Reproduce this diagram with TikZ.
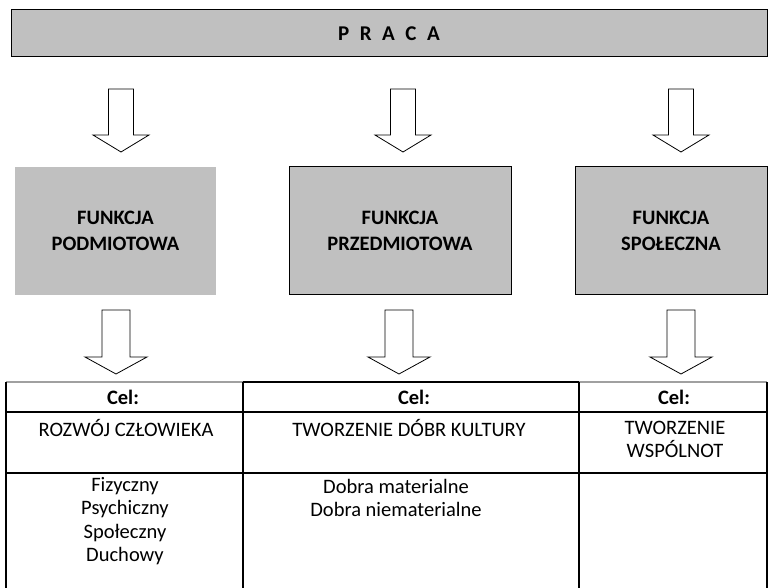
\documentclass[tikz,border=0pt]{standalone}
\usepackage{fontspec}
\setmainfont{Carlito}
\usetikzlibrary{calc}

\definecolor{boxgray}{HTML}{C0C0C0}
\definecolor{rulegray}{HTML}{A0A0A0}

\tikzset{
	box/.style = {fill=boxgray, draw=black, line width=1pt, align=center, inner sep=0pt,
		font=\fontsize{20.5}{26}\selectfont\bfseries},
	hollow/.style = {draw=black, fill=white, line width=0.8pt, line join=miter},
	cell/.style = {align=center, inner sep=0pt},
	rule/.style = {line width=1.2pt}
}

% block arrow: top point, tip point, half shaft width, half head width
\newcommand{\fatarrow}[4]{%
	\draw[hollow] ($(#1)+(-#3,0)$) -- ($(#1)+(#3,0)$) -- ($(#2)+(#3,-17)$) -- ($(#2)+(#4,-17)$)
		-- (#2) -- ($(#2)+(-#4,-17)$) -- ($(#2)+(-#3,-17)$) -- cycle;}
\newcommand{\gap}{\hspace{10.5pt}}

\begin{document}
\begin{tikzpicture}[x=1pt, y=-1pt, font=\fontsize{20.5}{23.5}\selectfont]
	\useasboundingbox (0,0) rectangle (769,588);
	% top bar
	\node[box, minimum width=756pt, minimum height=47pt, font=\fontsize{21}{25}\selectfont\bfseries] (praca) at (389,33.5) {P\gap R\gap A\gap C\gap A};
	% functions
	\node[box, draw=none, minimum width=201pt, minimum height=128pt] (podm) at (115.5,231) {FUNKCJA\\PODMIOTOWA};
	\node[box, minimum width=222pt, minimum height=128pt] (przedm) at (400,231) {FUNKCJA\\PRZEDMIOTOWA};
	\node[box, minimum width=192pt, minimum height=128pt] (spol) at (671,231) {FUNKCJA\\SPOŁECZNA};
	% arrows
	\foreach \i/\x in {1/121,2/403,3/681} {
		\coordinate (in\i) at (\x,89);
		\coordinate (in\i tip) at (\x,152);
		\fatarrow{in\i}{in\i tip}{12.5}{28}
	}
	\foreach \i/\x in {1/116,2/399,3/681} {
		\coordinate (out\i) at (\x,310);
		\coordinate (out\i tip) at (\x,374);
		\fatarrow{out\i}{out\i tip}{14}{31}
	}
	% table
	\draw[rule, rulegray] (6,382) -- (243,382);
	\draw[rule] (243,382) -- (579,382);
	\draw[rule, rulegray] (579,382) -- (767,382);
	\draw[rule] (6,412) -- (767,412) (6,473) -- (767,473);
	\foreach \x in {6,243,579,767}
		\draw[rule] (\x,382) -- (\x,588);
	\foreach \i/\x in {1/123,2/414,3/674}
		\node[cell, font=\fontsize{20.5}{23.5}\selectfont\bfseries] (cel\i) at (\x,397) {Cel:};
	\node[cell] (goal1) at (126,428) {ROZWÓJ CZŁOWIEKA};
	\node[cell] (goal2) at (409,428) {TWORZENIE DÓBR KULTURY};
	\node[cell] (goal3) at (675,439.5) {TWORZENIE\\WSPÓLNOT};
	\node[cell] (kinds1) at (125,521) {Fizyczny\\Psychiczny\\Społeczny\\Duchowy};
	\node[cell] (kinds2) at (396,498) {Dobra materialne\\Dobra niematerialne};
\end{tikzpicture}
\end{document}
